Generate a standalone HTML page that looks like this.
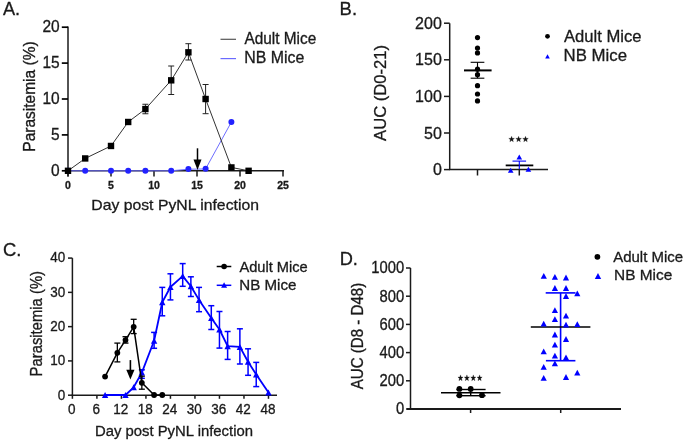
<!DOCTYPE html>
<html><head><meta charset="utf-8"><style>
html,body{margin:0;padding:0;background:#fff;}
svg{display:block;font-family:"Liberation Sans", sans-serif;will-change:transform;}
</style></head><body>
<svg width="685" height="441" viewBox="0 0 685 441">
<rect width="685" height="441" fill="#fff"/>
<text x="0" y="0" font-size="18" font-weight="normal" fill="#1a1a1a" stroke="#1a1a1a" stroke-width="0.3" textLength="17.18" lengthAdjust="spacingAndGlyphs" transform="translate(2.95 15.20)">A.</text>
<line x1="68.00" y1="26.40" x2="68.00" y2="176.50" stroke="#1a1a1a" stroke-width="1.5" stroke-linecap="butt"/>
<line x1="61.80" y1="170.80" x2="68.00" y2="170.80" stroke="#000" stroke-width="1.7" stroke-linecap="butt"/>
<text x="0" y="0" font-size="15.5" text-anchor="end" font-weight="normal" fill="#1a1a1a" stroke="#1a1a1a" stroke-width="0.3" transform="translate(59.70 175.90) scale(1 1.07)">0</text>
<line x1="61.80" y1="134.90" x2="68.00" y2="134.90" stroke="#000" stroke-width="1.7" stroke-linecap="butt"/>
<text x="0" y="0" font-size="15.5" text-anchor="end" font-weight="normal" fill="#1a1a1a" stroke="#1a1a1a" stroke-width="0.3" transform="translate(59.70 140.00) scale(1 1.07)">5</text>
<line x1="61.80" y1="99.00" x2="68.00" y2="99.00" stroke="#000" stroke-width="1.7" stroke-linecap="butt"/>
<text x="0" y="0" font-size="15.5" text-anchor="end" font-weight="normal" fill="#1a1a1a" stroke="#1a1a1a" stroke-width="0.3" transform="translate(59.70 104.10) scale(1 1.07)">10</text>
<line x1="61.80" y1="63.10" x2="68.00" y2="63.10" stroke="#000" stroke-width="1.7" stroke-linecap="butt"/>
<text x="0" y="0" font-size="15.5" text-anchor="end" font-weight="normal" fill="#1a1a1a" stroke="#1a1a1a" stroke-width="0.3" transform="translate(59.70 68.20) scale(1 1.07)">15</text>
<line x1="61.80" y1="27.20" x2="68.00" y2="27.20" stroke="#000" stroke-width="1.7" stroke-linecap="butt"/>
<text x="0" y="0" font-size="15.5" text-anchor="end" font-weight="normal" fill="#1a1a1a" stroke="#1a1a1a" stroke-width="0.3" transform="translate(59.70 32.30) scale(1 1.07)">20</text>
<line x1="68.00" y1="170.80" x2="284.00" y2="170.80" stroke="#1a1a1a" stroke-width="1.5" stroke-linecap="butt"/>
<line x1="68.00" y1="170.80" x2="68.00" y2="176.50" stroke="#1a1a1a" stroke-width="1.5" stroke-linecap="butt"/>
<text x="68.00" y="188.80" font-size="10.5" text-anchor="middle" font-weight="bold" fill="#1a1a1a" stroke="#1a1a1a" stroke-width="0.3">0</text>
<line x1="111.00" y1="170.80" x2="111.00" y2="176.50" stroke="#1a1a1a" stroke-width="1.5" stroke-linecap="butt"/>
<text x="111.00" y="188.80" font-size="10.5" text-anchor="middle" font-weight="bold" fill="#1a1a1a" stroke="#1a1a1a" stroke-width="0.3">5</text>
<line x1="154.00" y1="170.80" x2="154.00" y2="176.50" stroke="#1a1a1a" stroke-width="1.5" stroke-linecap="butt"/>
<text x="154.00" y="188.80" font-size="10.5" text-anchor="middle" font-weight="bold" fill="#1a1a1a" stroke="#1a1a1a" stroke-width="0.3">10</text>
<line x1="197.00" y1="170.80" x2="197.00" y2="176.50" stroke="#1a1a1a" stroke-width="1.5" stroke-linecap="butt"/>
<text x="197.00" y="188.80" font-size="10.5" text-anchor="middle" font-weight="bold" fill="#1a1a1a" stroke="#1a1a1a" stroke-width="0.3">15</text>
<line x1="240.00" y1="170.80" x2="240.00" y2="176.50" stroke="#1a1a1a" stroke-width="1.5" stroke-linecap="butt"/>
<text x="240.00" y="188.80" font-size="10.5" text-anchor="middle" font-weight="bold" fill="#1a1a1a" stroke="#1a1a1a" stroke-width="0.3">20</text>
<line x1="283.00" y1="170.80" x2="283.00" y2="176.50" stroke="#1a1a1a" stroke-width="1.5" stroke-linecap="butt"/>
<text x="283.00" y="188.80" font-size="10.5" text-anchor="middle" font-weight="bold" fill="#1a1a1a" stroke="#1a1a1a" stroke-width="0.3">25</text>
<text x="0" y="0" font-size="15.6" font-weight="normal" fill="#1a1a1a" stroke="#1a1a1a" stroke-width="0.3" textLength="167.66" lengthAdjust="spacingAndGlyphs" transform="translate(91.29 210.00) scale(1 0.92)">Day post PyNL infection</text>
<text x="0" y="0" font-size="15.3" font-weight="normal" fill="#1a1a1a" stroke="#1a1a1a" stroke-width="0.3" textLength="110.34" lengthAdjust="spacingAndGlyphs" transform="translate(35.10 151.71) rotate(-90) scale(1 1.12)">Parasitemia (%)</text>
<line x1="220.50" y1="39.30" x2="236.00" y2="39.30" stroke="#555" stroke-width="1.2" stroke-linecap="butt"/>
<line x1="220.50" y1="58.60" x2="236.00" y2="58.60" stroke="#6a6aff" stroke-width="1.2" stroke-linecap="butt"/>
<text x="0" y="0" font-size="15.3" font-weight="normal" fill="#1a1a1a" stroke="#1a1a1a" stroke-width="0.3" textLength="71.78" lengthAdjust="spacingAndGlyphs" transform="translate(244.50 43.90) scale(1 1.05)">Adult Mice</text>
<text x="0" y="0" font-size="15.3" font-weight="normal" fill="#1a1a1a" stroke="#1a1a1a" stroke-width="0.3" textLength="60.01" lengthAdjust="spacingAndGlyphs" transform="translate(244.26 62.90) scale(1 1.05)">NB Mice</text>
<polyline points="68.00,170.80 85.20,170.80 111.00,170.80 128.20,170.80 145.40,170.80 171.20,170.80 188.40,169.22 205.60,168.93 231.40,121.98" fill="none" stroke="#6e6eff" stroke-width="1" stroke-linejoin="round"/>
<polyline points="68.00,170.80 85.20,158.45 111.00,145.96 128.20,121.98 145.40,109.05 171.20,80.33 188.40,52.33 205.60,99.00 231.40,167.43 248.60,170.80" fill="none" stroke="#333" stroke-width="1" stroke-linejoin="round"/>
<line x1="145.40" y1="104.25" x2="145.40" y2="113.75" stroke="#222" stroke-width="1" stroke-linecap="butt"/>
<line x1="142.40" y1="104.25" x2="148.40" y2="104.25" stroke="#222" stroke-width="1" stroke-linecap="butt"/>
<line x1="142.40" y1="113.75" x2="148.40" y2="113.75" stroke="#222" stroke-width="1" stroke-linecap="butt"/>
<line x1="171.20" y1="66.00" x2="171.20" y2="94.50" stroke="#222" stroke-width="1" stroke-linecap="butt"/>
<line x1="168.20" y1="66.00" x2="174.20" y2="66.00" stroke="#222" stroke-width="1" stroke-linecap="butt"/>
<line x1="168.20" y1="94.50" x2="174.20" y2="94.50" stroke="#222" stroke-width="1" stroke-linecap="butt"/>
<line x1="188.40" y1="43.70" x2="188.40" y2="60.00" stroke="#222" stroke-width="1" stroke-linecap="butt"/>
<line x1="185.40" y1="43.70" x2="191.40" y2="43.70" stroke="#222" stroke-width="1" stroke-linecap="butt"/>
<line x1="185.40" y1="60.00" x2="191.40" y2="60.00" stroke="#222" stroke-width="1" stroke-linecap="butt"/>
<line x1="205.60" y1="84.50" x2="205.60" y2="113.70" stroke="#222" stroke-width="1" stroke-linecap="butt"/>
<line x1="202.60" y1="84.50" x2="208.60" y2="84.50" stroke="#222" stroke-width="1" stroke-linecap="butt"/>
<line x1="202.60" y1="113.70" x2="208.60" y2="113.70" stroke="#222" stroke-width="1" stroke-linecap="butt"/>
<circle cx="68.00" cy="170.70" r="3.0" fill="#2222ff"/>
<circle cx="85.20" cy="170.70" r="3.0" fill="#2222ff"/>
<circle cx="111.00" cy="170.70" r="3.0" fill="#2222ff"/>
<circle cx="128.20" cy="170.70" r="3.0" fill="#2222ff"/>
<circle cx="145.40" cy="170.70" r="3.0" fill="#2222ff"/>
<circle cx="171.20" cy="170.70" r="3.0" fill="#2222ff"/>
<circle cx="188.40" cy="169.12" r="3.0" fill="#2222ff"/>
<circle cx="205.60" cy="168.83" r="3.0" fill="#2222ff"/>
<circle cx="231.40" cy="121.88" r="3.0" fill="#2222ff"/>
<rect x="64.80" y="167.60" width="6.4" height="6.4" fill="#000"/>
<rect x="82.00" y="155.25" width="6.4" height="6.4" fill="#000"/>
<rect x="107.80" y="142.76" width="6.4" height="6.4" fill="#000"/>
<rect x="125.00" y="118.78" width="6.4" height="6.4" fill="#000"/>
<rect x="142.20" y="105.85" width="6.4" height="6.4" fill="#000"/>
<rect x="168.00" y="77.13" width="6.4" height="6.4" fill="#000"/>
<rect x="185.20" y="49.13" width="6.4" height="6.4" fill="#000"/>
<rect x="202.40" y="95.80" width="6.4" height="6.4" fill="#000"/>
<rect x="228.20" y="164.23" width="6.4" height="6.4" fill="#000"/>
<rect x="245.40" y="167.60" width="6.4" height="6.4" fill="#000"/>
<line x1="197.50" y1="148.30" x2="197.50" y2="160.50" stroke="#000" stroke-width="1.5" stroke-linecap="butt"/>
<polygon points="193.50,159.50 201.50,159.50 197.50,170.00" fill="#000"/>
<text x="0" y="0" font-size="18" font-weight="normal" fill="#1a1a1a" stroke="#1a1a1a" stroke-width="0.3" textLength="17.43" lengthAdjust="spacingAndGlyphs" transform="translate(339.62 15.20)">B.</text>
<line x1="449.70" y1="23.30" x2="449.70" y2="169.60" stroke="#1a1a1a" stroke-width="1.5" stroke-linecap="butt"/>
<line x1="444.00" y1="169.60" x2="449.70" y2="169.60" stroke="#1a1a1a" stroke-width="1.5" stroke-linecap="butt"/>
<text x="441.80" y="175.20" font-size="16" text-anchor="end" font-weight="normal" fill="#1a1a1a" stroke="#1a1a1a" stroke-width="0.3">0</text>
<line x1="444.00" y1="133.00" x2="449.70" y2="133.00" stroke="#1a1a1a" stroke-width="1.5" stroke-linecap="butt"/>
<text x="441.80" y="138.60" font-size="16" text-anchor="end" font-weight="normal" fill="#1a1a1a" stroke="#1a1a1a" stroke-width="0.3">50</text>
<line x1="444.00" y1="96.40" x2="449.70" y2="96.40" stroke="#1a1a1a" stroke-width="1.5" stroke-linecap="butt"/>
<text x="441.80" y="102.00" font-size="16" text-anchor="end" font-weight="normal" fill="#1a1a1a" stroke="#1a1a1a" stroke-width="0.3">100</text>
<line x1="444.00" y1="59.80" x2="449.70" y2="59.80" stroke="#1a1a1a" stroke-width="1.5" stroke-linecap="butt"/>
<text x="441.80" y="65.40" font-size="16" text-anchor="end" font-weight="normal" fill="#1a1a1a" stroke="#1a1a1a" stroke-width="0.3">150</text>
<line x1="444.00" y1="23.20" x2="449.70" y2="23.20" stroke="#1a1a1a" stroke-width="1.5" stroke-linecap="butt"/>
<text x="441.80" y="28.80" font-size="16" text-anchor="end" font-weight="normal" fill="#1a1a1a" stroke="#1a1a1a" stroke-width="0.3">200</text>
<line x1="448.95" y1="169.60" x2="548.00" y2="169.60" stroke="#1a1a1a" stroke-width="1.5" stroke-linecap="butt"/>
<line x1="477.50" y1="169.60" x2="477.50" y2="175.50" stroke="#1a1a1a" stroke-width="1.5" stroke-linecap="butt"/>
<line x1="519.30" y1="169.60" x2="519.30" y2="175.50" stroke="#1a1a1a" stroke-width="1.5" stroke-linecap="butt"/>
<text x="0" y="0" font-size="16.4" font-weight="normal" fill="#1a1a1a" stroke="#1a1a1a" stroke-width="0.3" textLength="95.98" lengthAdjust="spacingAndGlyphs" transform="translate(386.40 140.90) rotate(-90)">AUC (D0-21)</text>
<circle cx="547.50" cy="36.30" r="2.4" fill="#000"/>
<polygon points="547.50,54.30 549.80,58.50 545.20,58.50" fill="#0000ff"/>
<text x="0" y="0" font-size="16.6" font-weight="normal" fill="#1a1a1a" stroke="#1a1a1a" stroke-width="0.3" textLength="77.57" lengthAdjust="spacingAndGlyphs" transform="translate(563.90 41.90)">Adult Mice</text>
<text x="0" y="0" font-size="16.6" font-weight="normal" fill="#1a1a1a" stroke="#1a1a1a" stroke-width="0.3" textLength="63.48" lengthAdjust="spacingAndGlyphs" transform="translate(563.53 61.20)">NB Mice</text>
<line x1="464.00" y1="70.40" x2="491.60" y2="70.40" stroke="#000" stroke-width="2" stroke-linecap="butt"/>
<line x1="477.50" y1="62.30" x2="477.50" y2="78.20" stroke="#000" stroke-width="1.1" stroke-linecap="butt"/>
<line x1="470.65" y1="62.30" x2="484.35" y2="62.30" stroke="#000" stroke-width="1.1" stroke-linecap="butt"/>
<line x1="470.65" y1="78.20" x2="484.35" y2="78.20" stroke="#000" stroke-width="1.1" stroke-linecap="butt"/>
<circle cx="477.50" cy="37.60" r="2.6" fill="#000"/>
<circle cx="477.50" cy="48.00" r="2.6" fill="#000"/>
<circle cx="477.50" cy="52.90" r="2.6" fill="#000"/>
<circle cx="477.50" cy="69.20" r="2.6" fill="#000"/>
<circle cx="477.50" cy="74.70" r="2.6" fill="#000"/>
<circle cx="477.50" cy="85.70" r="2.6" fill="#000"/>
<circle cx="477.50" cy="94.00" r="2.6" fill="#000"/>
<circle cx="477.50" cy="100.90" r="2.6" fill="#000"/>
<line x1="505.70" y1="165.40" x2="533.30" y2="165.40" stroke="#000" stroke-width="1.8" stroke-linecap="butt"/>
<line x1="512.50" y1="161.10" x2="526.10" y2="161.10" stroke="#0000ff" stroke-width="1.1" stroke-linecap="butt"/>
<line x1="519.30" y1="161.10" x2="519.30" y2="169.00" stroke="#0000ff" stroke-width="1.1" stroke-linecap="butt"/>
<polygon points="510.70,167.70 513.50,172.70 507.90,172.70" fill="#0000ff"/>
<polygon points="519.30,154.50 522.10,159.50 516.50,159.50" fill="#0000ff"/>
<polygon points="528.40,166.80 531.20,171.80 525.60,171.80" fill="#0000ff"/>
<polygon points="511.60,136.35 512.31,138.33 514.41,138.39 512.74,139.67 513.33,141.69 511.60,140.50 509.87,141.69 510.46,139.67 508.79,138.39 510.89,138.33" fill="#111" stroke="#111" stroke-width="0.3" stroke-linejoin="round"/>
<polygon points="518.60,136.35 519.31,138.33 521.41,138.39 519.74,139.67 520.33,141.69 518.60,140.50 516.87,141.69 517.46,139.67 515.79,138.39 517.89,138.33" fill="#111" stroke="#111" stroke-width="0.3" stroke-linejoin="round"/>
<polygon points="525.50,136.35 526.21,138.33 528.31,138.39 526.64,139.67 527.23,141.69 525.50,140.50 523.77,141.69 524.36,139.67 522.69,138.39 524.79,138.33" fill="#111" stroke="#111" stroke-width="0.3" stroke-linejoin="round"/>
<text x="0" y="0" font-size="18" font-weight="normal" fill="#1a1a1a" stroke="#1a1a1a" stroke-width="0.3" textLength="18.40" lengthAdjust="spacingAndGlyphs" transform="translate(3.03 256.00)">C.</text>
<line x1="72.40" y1="258.10" x2="72.40" y2="395.20" stroke="#1a1a1a" stroke-width="1.5" stroke-linecap="butt"/>
<line x1="68.00" y1="395.20" x2="72.40" y2="395.20" stroke="#1a1a1a" stroke-width="1.5" stroke-linecap="butt"/>
<text x="0" y="0" font-size="13.5" text-anchor="end" font-weight="normal" fill="#1a1a1a" stroke="#1a1a1a" stroke-width="0.3" transform="translate(65.20 399.60) scale(1 1.1)">0</text>
<line x1="68.00" y1="360.92" x2="72.40" y2="360.92" stroke="#1a1a1a" stroke-width="1.5" stroke-linecap="butt"/>
<text x="0" y="0" font-size="13.5" text-anchor="end" font-weight="normal" fill="#1a1a1a" stroke="#1a1a1a" stroke-width="0.3" transform="translate(65.20 365.32) scale(1 1.1)">10</text>
<line x1="68.00" y1="326.64" x2="72.40" y2="326.64" stroke="#1a1a1a" stroke-width="1.5" stroke-linecap="butt"/>
<text x="0" y="0" font-size="13.5" text-anchor="end" font-weight="normal" fill="#1a1a1a" stroke="#1a1a1a" stroke-width="0.3" transform="translate(65.20 331.04) scale(1 1.1)">20</text>
<line x1="68.00" y1="292.36" x2="72.40" y2="292.36" stroke="#1a1a1a" stroke-width="1.5" stroke-linecap="butt"/>
<text x="0" y="0" font-size="13.5" text-anchor="end" font-weight="normal" fill="#1a1a1a" stroke="#1a1a1a" stroke-width="0.3" transform="translate(65.20 296.76) scale(1 1.1)">30</text>
<line x1="68.00" y1="258.08" x2="72.40" y2="258.08" stroke="#1a1a1a" stroke-width="1.5" stroke-linecap="butt"/>
<text x="0" y="0" font-size="13.5" text-anchor="end" font-weight="normal" fill="#1a1a1a" stroke="#1a1a1a" stroke-width="0.3" transform="translate(65.20 262.48) scale(1 1.1)">40</text>
<line x1="71.65" y1="395.20" x2="277.00" y2="395.20" stroke="#1a1a1a" stroke-width="1.5" stroke-linecap="butt"/>
<line x1="72.40" y1="395.20" x2="72.40" y2="398.80" stroke="#1a1a1a" stroke-width="1.5" stroke-linecap="butt"/>
<text x="0" y="0" font-size="13.5" text-anchor="middle" font-weight="normal" fill="#1a1a1a" stroke="#1a1a1a" stroke-width="0.3" transform="translate(71.80 413.60) scale(1 1.07)">0</text>
<line x1="96.91" y1="395.20" x2="96.91" y2="398.80" stroke="#1a1a1a" stroke-width="1.5" stroke-linecap="butt"/>
<text x="0" y="0" font-size="13.5" text-anchor="middle" font-weight="normal" fill="#1a1a1a" stroke="#1a1a1a" stroke-width="0.3" transform="translate(96.31 413.60) scale(1 1.07)">6</text>
<line x1="121.42" y1="395.20" x2="121.42" y2="398.80" stroke="#1a1a1a" stroke-width="1.5" stroke-linecap="butt"/>
<text x="0" y="0" font-size="13.5" text-anchor="middle" font-weight="normal" fill="#1a1a1a" stroke="#1a1a1a" stroke-width="0.3" transform="translate(120.82 413.60) scale(1 1.07)">12</text>
<line x1="145.93" y1="395.20" x2="145.93" y2="398.80" stroke="#1a1a1a" stroke-width="1.5" stroke-linecap="butt"/>
<text x="0" y="0" font-size="13.5" text-anchor="middle" font-weight="normal" fill="#1a1a1a" stroke="#1a1a1a" stroke-width="0.3" transform="translate(145.33 413.60) scale(1 1.07)">18</text>
<line x1="170.44" y1="395.20" x2="170.44" y2="398.80" stroke="#1a1a1a" stroke-width="1.5" stroke-linecap="butt"/>
<text x="0" y="0" font-size="13.5" text-anchor="middle" font-weight="normal" fill="#1a1a1a" stroke="#1a1a1a" stroke-width="0.3" transform="translate(169.84 413.60) scale(1 1.07)">24</text>
<line x1="194.95" y1="395.20" x2="194.95" y2="398.80" stroke="#1a1a1a" stroke-width="1.5" stroke-linecap="butt"/>
<text x="0" y="0" font-size="13.5" text-anchor="middle" font-weight="normal" fill="#1a1a1a" stroke="#1a1a1a" stroke-width="0.3" transform="translate(194.35 413.60) scale(1 1.07)">30</text>
<line x1="219.46" y1="395.20" x2="219.46" y2="398.80" stroke="#1a1a1a" stroke-width="1.5" stroke-linecap="butt"/>
<text x="0" y="0" font-size="13.5" text-anchor="middle" font-weight="normal" fill="#1a1a1a" stroke="#1a1a1a" stroke-width="0.3" transform="translate(218.86 413.60) scale(1 1.07)">36</text>
<line x1="243.97" y1="395.20" x2="243.97" y2="398.80" stroke="#1a1a1a" stroke-width="1.5" stroke-linecap="butt"/>
<text x="0" y="0" font-size="13.5" text-anchor="middle" font-weight="normal" fill="#1a1a1a" stroke="#1a1a1a" stroke-width="0.3" transform="translate(243.37 413.60) scale(1 1.07)">42</text>
<line x1="268.48" y1="395.20" x2="268.48" y2="398.80" stroke="#1a1a1a" stroke-width="1.5" stroke-linecap="butt"/>
<text x="0" y="0" font-size="13.5" text-anchor="middle" font-weight="normal" fill="#1a1a1a" stroke="#1a1a1a" stroke-width="0.3" transform="translate(267.88 413.60) scale(1 1.07)">48</text>
<text x="0" y="0" font-size="14.7" font-weight="normal" fill="#1a1a1a" stroke="#1a1a1a" stroke-width="0.3" textLength="158.12" lengthAdjust="spacingAndGlyphs" transform="translate(94.89 435.50)">Day post PyNL infection</text>
<text x="0" y="0" font-size="14.6" font-weight="normal" fill="#1a1a1a" stroke="#1a1a1a" stroke-width="0.3" textLength="105.44" lengthAdjust="spacingAndGlyphs" transform="translate(42.20 376.42) rotate(-90) scale(1 1.1)">Parasitemia (%)</text>
<line x1="216.70" y1="266.50" x2="231.30" y2="266.50" stroke="#000" stroke-width="1.5" stroke-linecap="butt"/>
<circle cx="224.10" cy="266.50" r="2.8" fill="#000"/>
<line x1="216.70" y1="285.30" x2="231.30" y2="285.30" stroke="#0000ff" stroke-width="1.5" stroke-linecap="butt"/>
<polygon points="224.10,282.25 227.10,287.75 221.10,287.75" fill="#0000ff"/>
<text x="0" y="0" font-size="14.5" font-weight="normal" fill="#1a1a1a" stroke="#1a1a1a" stroke-width="0.3" textLength="68.36" lengthAdjust="spacingAndGlyphs" transform="translate(239.40 271.70) scale(1 1.04)">Adult Mice</text>
<text x="0" y="0" font-size="14.5" font-weight="normal" fill="#1a1a1a" stroke="#1a1a1a" stroke-width="0.3" textLength="57.11" lengthAdjust="spacingAndGlyphs" transform="translate(239.26 289.80) scale(1 1.04)">NB Mice</text>
<polyline points="105.08,395.00 125.50,395.00 133.68,387.30 141.84,372.60 154.10,340.80 162.27,302.20 170.44,287.00 182.69,276.10 190.87,286.30 199.04,299.90 211.29,318.00 219.46,329.50 227.63,346.20 239.88,346.90 248.06,361.70 256.23,374.40 268.48,392.50" fill="none" stroke="#0000ff" stroke-width="1.8" stroke-linejoin="round"/>
<line x1="141.84" y1="369.80" x2="141.84" y2="378.30" stroke="#0000ff" stroke-width="1.5" stroke-linecap="butt"/>
<line x1="138.84" y1="369.80" x2="144.84" y2="369.80" stroke="#0000ff" stroke-width="1.5" stroke-linecap="butt"/>
<line x1="138.84" y1="378.30" x2="144.84" y2="378.30" stroke="#0000ff" stroke-width="1.5" stroke-linecap="butt"/>
<line x1="154.10" y1="332.40" x2="154.10" y2="348.30" stroke="#0000ff" stroke-width="1.5" stroke-linecap="butt"/>
<line x1="151.10" y1="332.40" x2="157.10" y2="332.40" stroke="#0000ff" stroke-width="1.5" stroke-linecap="butt"/>
<line x1="151.10" y1="348.30" x2="157.10" y2="348.30" stroke="#0000ff" stroke-width="1.5" stroke-linecap="butt"/>
<line x1="162.27" y1="287.40" x2="162.27" y2="315.80" stroke="#0000ff" stroke-width="1.5" stroke-linecap="butt"/>
<line x1="159.27" y1="287.40" x2="165.27" y2="287.40" stroke="#0000ff" stroke-width="1.5" stroke-linecap="butt"/>
<line x1="159.27" y1="315.80" x2="165.27" y2="315.80" stroke="#0000ff" stroke-width="1.5" stroke-linecap="butt"/>
<line x1="170.44" y1="273.80" x2="170.44" y2="299.90" stroke="#0000ff" stroke-width="1.5" stroke-linecap="butt"/>
<line x1="167.44" y1="273.80" x2="173.44" y2="273.80" stroke="#0000ff" stroke-width="1.5" stroke-linecap="butt"/>
<line x1="167.44" y1="299.90" x2="173.44" y2="299.90" stroke="#0000ff" stroke-width="1.5" stroke-linecap="butt"/>
<line x1="182.69" y1="263.60" x2="182.69" y2="286.30" stroke="#0000ff" stroke-width="1.5" stroke-linecap="butt"/>
<line x1="179.69" y1="263.60" x2="185.69" y2="263.60" stroke="#0000ff" stroke-width="1.5" stroke-linecap="butt"/>
<line x1="179.69" y1="286.30" x2="185.69" y2="286.30" stroke="#0000ff" stroke-width="1.5" stroke-linecap="butt"/>
<line x1="190.87" y1="276.80" x2="190.87" y2="296.50" stroke="#0000ff" stroke-width="1.5" stroke-linecap="butt"/>
<line x1="187.87" y1="276.80" x2="193.87" y2="276.80" stroke="#0000ff" stroke-width="1.5" stroke-linecap="butt"/>
<line x1="187.87" y1="296.50" x2="193.87" y2="296.50" stroke="#0000ff" stroke-width="1.5" stroke-linecap="butt"/>
<line x1="199.04" y1="287.40" x2="199.04" y2="311.70" stroke="#0000ff" stroke-width="1.5" stroke-linecap="butt"/>
<line x1="196.04" y1="287.40" x2="202.04" y2="287.40" stroke="#0000ff" stroke-width="1.5" stroke-linecap="butt"/>
<line x1="196.04" y1="311.70" x2="202.04" y2="311.70" stroke="#0000ff" stroke-width="1.5" stroke-linecap="butt"/>
<line x1="211.29" y1="305.70" x2="211.29" y2="329.50" stroke="#0000ff" stroke-width="1.5" stroke-linecap="butt"/>
<line x1="208.29" y1="305.70" x2="214.29" y2="305.70" stroke="#0000ff" stroke-width="1.5" stroke-linecap="butt"/>
<line x1="208.29" y1="329.50" x2="214.29" y2="329.50" stroke="#0000ff" stroke-width="1.5" stroke-linecap="butt"/>
<line x1="219.46" y1="311.50" x2="219.46" y2="348.10" stroke="#0000ff" stroke-width="1.5" stroke-linecap="butt"/>
<line x1="216.46" y1="311.50" x2="222.46" y2="311.50" stroke="#0000ff" stroke-width="1.5" stroke-linecap="butt"/>
<line x1="216.46" y1="348.10" x2="222.46" y2="348.10" stroke="#0000ff" stroke-width="1.5" stroke-linecap="butt"/>
<line x1="227.63" y1="331.50" x2="227.63" y2="359.40" stroke="#0000ff" stroke-width="1.5" stroke-linecap="butt"/>
<line x1="224.63" y1="331.50" x2="230.63" y2="331.50" stroke="#0000ff" stroke-width="1.5" stroke-linecap="butt"/>
<line x1="224.63" y1="359.40" x2="230.63" y2="359.40" stroke="#0000ff" stroke-width="1.5" stroke-linecap="butt"/>
<line x1="239.88" y1="328.80" x2="239.88" y2="364.00" stroke="#0000ff" stroke-width="1.5" stroke-linecap="butt"/>
<line x1="236.88" y1="328.80" x2="242.88" y2="328.80" stroke="#0000ff" stroke-width="1.5" stroke-linecap="butt"/>
<line x1="236.88" y1="364.00" x2="242.88" y2="364.00" stroke="#0000ff" stroke-width="1.5" stroke-linecap="butt"/>
<line x1="248.06" y1="348.80" x2="248.06" y2="375.30" stroke="#0000ff" stroke-width="1.5" stroke-linecap="butt"/>
<line x1="245.06" y1="348.80" x2="251.06" y2="348.80" stroke="#0000ff" stroke-width="1.5" stroke-linecap="butt"/>
<line x1="245.06" y1="375.30" x2="251.06" y2="375.30" stroke="#0000ff" stroke-width="1.5" stroke-linecap="butt"/>
<line x1="256.23" y1="362.40" x2="256.23" y2="386.60" stroke="#0000ff" stroke-width="1.5" stroke-linecap="butt"/>
<line x1="253.23" y1="362.40" x2="259.23" y2="362.40" stroke="#0000ff" stroke-width="1.5" stroke-linecap="butt"/>
<line x1="253.23" y1="386.60" x2="259.23" y2="386.60" stroke="#0000ff" stroke-width="1.5" stroke-linecap="butt"/>
<polygon points="105.08,392.00 108.28,398.00 101.88,398.00" fill="#0000ff"/>
<polygon points="125.50,392.00 128.70,398.00 122.30,398.00" fill="#0000ff"/>
<polygon points="133.68,384.30 136.88,390.30 130.48,390.30" fill="#0000ff"/>
<polygon points="141.84,369.60 145.04,375.60 138.65,375.60" fill="#0000ff"/>
<polygon points="154.10,337.80 157.30,343.80 150.90,343.80" fill="#0000ff"/>
<polygon points="162.27,299.20 165.47,305.20 159.07,305.20" fill="#0000ff"/>
<polygon points="170.44,284.00 173.64,290.00 167.24,290.00" fill="#0000ff"/>
<polygon points="182.69,273.10 185.89,279.10 179.50,279.10" fill="#0000ff"/>
<polygon points="190.87,283.30 194.06,289.30 187.67,289.30" fill="#0000ff"/>
<polygon points="199.04,296.90 202.24,302.90 195.84,302.90" fill="#0000ff"/>
<polygon points="211.29,315.00 214.49,321.00 208.09,321.00" fill="#0000ff"/>
<polygon points="219.46,326.50 222.66,332.50 216.26,332.50" fill="#0000ff"/>
<polygon points="227.63,343.20 230.83,349.20 224.43,349.20" fill="#0000ff"/>
<polygon points="239.88,343.90 243.08,349.90 236.69,349.90" fill="#0000ff"/>
<polygon points="248.06,358.70 251.25,364.70 244.86,364.70" fill="#0000ff"/>
<polygon points="256.23,371.40 259.43,377.40 253.03,377.40" fill="#0000ff"/>
<polygon points="268.48,389.50 271.68,395.50 265.28,395.50" fill="#0000ff"/>
<polyline points="105.08,376.60 117.34,352.80 125.50,340.10 133.68,326.80 141.84,382.80 154.10,395.00 162.27,395.00" fill="none" stroke="#000" stroke-width="1.5" stroke-linejoin="round"/>
<line x1="117.34" y1="343.10" x2="117.34" y2="361.90" stroke="#000" stroke-width="1.3" stroke-linecap="butt"/>
<line x1="114.34" y1="343.10" x2="120.34" y2="343.10" stroke="#000" stroke-width="1.3" stroke-linecap="butt"/>
<line x1="114.34" y1="361.90" x2="120.34" y2="361.90" stroke="#000" stroke-width="1.3" stroke-linecap="butt"/>
<line x1="125.50" y1="336.70" x2="125.50" y2="343.10" stroke="#000" stroke-width="1.3" stroke-linecap="butt"/>
<line x1="122.50" y1="336.70" x2="128.50" y2="336.70" stroke="#000" stroke-width="1.3" stroke-linecap="butt"/>
<line x1="122.50" y1="343.10" x2="128.50" y2="343.10" stroke="#000" stroke-width="1.3" stroke-linecap="butt"/>
<line x1="133.68" y1="319.30" x2="133.68" y2="333.60" stroke="#000" stroke-width="1.3" stroke-linecap="butt"/>
<line x1="130.68" y1="319.30" x2="136.68" y2="319.30" stroke="#000" stroke-width="1.3" stroke-linecap="butt"/>
<line x1="130.68" y1="333.60" x2="136.68" y2="333.60" stroke="#000" stroke-width="1.3" stroke-linecap="butt"/>
<line x1="141.84" y1="376.20" x2="141.84" y2="389.20" stroke="#000" stroke-width="1.3" stroke-linecap="butt"/>
<line x1="138.84" y1="376.20" x2="144.84" y2="376.20" stroke="#000" stroke-width="1.3" stroke-linecap="butt"/>
<line x1="138.84" y1="389.20" x2="144.84" y2="389.20" stroke="#000" stroke-width="1.3" stroke-linecap="butt"/>
<circle cx="105.08" cy="376.60" r="2.9" fill="#000"/>
<circle cx="117.34" cy="352.80" r="2.9" fill="#000"/>
<circle cx="125.50" cy="340.10" r="2.9" fill="#000"/>
<circle cx="133.68" cy="326.80" r="2.9" fill="#000"/>
<circle cx="141.84" cy="382.80" r="2.9" fill="#000"/>
<circle cx="154.10" cy="395.00" r="2.9" fill="#000"/>
<circle cx="162.27" cy="395.00" r="2.9" fill="#000"/>
<line x1="130.40" y1="360.10" x2="130.40" y2="370.80" stroke="#000" stroke-width="1.6" stroke-linecap="butt"/>
<polygon points="126.30,369.80 134.50,369.80 130.40,379.60" fill="#000"/>
<text x="0" y="0" font-size="18" font-weight="normal" fill="#1a1a1a" stroke="#1a1a1a" stroke-width="0.3" textLength="18.18" lengthAdjust="spacingAndGlyphs" transform="translate(339.64 265.00)">D.</text>
<line x1="410.50" y1="268.00" x2="410.50" y2="409.00" stroke="#1a1a1a" stroke-width="1.5" stroke-linecap="butt"/>
<line x1="406.00" y1="409.00" x2="410.50" y2="409.00" stroke="#1a1a1a" stroke-width="1.5" stroke-linecap="butt"/>
<text x="0" y="0" font-size="14.8" text-anchor="end" font-weight="normal" fill="#1a1a1a" stroke="#1a1a1a" stroke-width="0.3" transform="translate(404.20 414.30) scale(1 1.1)">0</text>
<line x1="406.00" y1="380.80" x2="410.50" y2="380.80" stroke="#1a1a1a" stroke-width="1.5" stroke-linecap="butt"/>
<text x="0" y="0" font-size="14.8" text-anchor="end" font-weight="normal" fill="#1a1a1a" stroke="#1a1a1a" stroke-width="0.3" transform="translate(404.20 386.10) scale(1 1.1)">200</text>
<line x1="406.00" y1="352.60" x2="410.50" y2="352.60" stroke="#1a1a1a" stroke-width="1.5" stroke-linecap="butt"/>
<text x="0" y="0" font-size="14.8" text-anchor="end" font-weight="normal" fill="#1a1a1a" stroke="#1a1a1a" stroke-width="0.3" transform="translate(404.20 357.90) scale(1 1.1)">400</text>
<line x1="406.00" y1="324.40" x2="410.50" y2="324.40" stroke="#1a1a1a" stroke-width="1.5" stroke-linecap="butt"/>
<text x="0" y="0" font-size="14.8" text-anchor="end" font-weight="normal" fill="#1a1a1a" stroke="#1a1a1a" stroke-width="0.3" transform="translate(404.20 329.70) scale(1 1.1)">600</text>
<line x1="406.00" y1="296.20" x2="410.50" y2="296.20" stroke="#1a1a1a" stroke-width="1.5" stroke-linecap="butt"/>
<text x="0" y="0" font-size="14.8" text-anchor="end" font-weight="normal" fill="#1a1a1a" stroke="#1a1a1a" stroke-width="0.3" transform="translate(404.20 301.50) scale(1 1.1)">800</text>
<line x1="406.00" y1="268.00" x2="410.50" y2="268.00" stroke="#1a1a1a" stroke-width="1.5" stroke-linecap="butt"/>
<text x="0" y="0" font-size="14.8" text-anchor="end" font-weight="normal" fill="#1a1a1a" stroke="#1a1a1a" stroke-width="0.3" transform="translate(404.20 273.30) scale(1 1.1)">1000</text>
<line x1="407.00" y1="409.00" x2="621.00" y2="409.00" stroke="#1a1a1a" stroke-width="1.8" stroke-linecap="butt"/>
<line x1="470.60" y1="409.00" x2="470.60" y2="413.00" stroke="#1a1a1a" stroke-width="1.5" stroke-linecap="butt"/>
<line x1="560.70" y1="409.00" x2="560.70" y2="413.00" stroke="#1a1a1a" stroke-width="1.5" stroke-linecap="butt"/>
<text x="0" y="0" font-size="15" font-weight="normal" fill="#1a1a1a" stroke="#1a1a1a" stroke-width="0.3" textLength="106.46" lengthAdjust="spacingAndGlyphs" transform="translate(363.20 389.20) rotate(-90) scale(1 1.12)">AUC (D8 - D48)</text>
<circle cx="597.40" cy="256.80" r="2.9" fill="#000"/>
<polygon points="598.00,273.00 601.20,279.00 594.80,279.00" fill="#0000ff"/>
<text x="0" y="0" font-size="14.8" font-weight="normal" fill="#1a1a1a" stroke="#1a1a1a" stroke-width="0.3" textLength="69.90" lengthAdjust="spacingAndGlyphs" transform="translate(613.20 261.60) scale(1 1.05)">Adult Mice</text>
<text x="0" y="0" font-size="14.8" font-weight="normal" fill="#1a1a1a" stroke="#1a1a1a" stroke-width="0.3" textLength="58.18" lengthAdjust="spacingAndGlyphs" transform="translate(614.06 280.20) scale(1 1.05)">NB Mice</text>
<line x1="441.00" y1="392.70" x2="500.50" y2="392.70" stroke="#000" stroke-width="1.5" stroke-linecap="butt"/>
<line x1="456.40" y1="389.50" x2="485.60" y2="389.50" stroke="#000" stroke-width="1.4" stroke-linecap="butt"/>
<line x1="456.40" y1="395.70" x2="485.60" y2="395.70" stroke="#000" stroke-width="1.4" stroke-linecap="butt"/>
<line x1="470.70" y1="389.50" x2="470.70" y2="395.70" stroke="#000" stroke-width="1.4" stroke-linecap="butt"/>
<circle cx="459.40" cy="388.90" r="2.9" fill="#000"/>
<circle cx="459.40" cy="395.30" r="2.9" fill="#000"/>
<circle cx="470.70" cy="388.90" r="2.9" fill="#000"/>
<circle cx="482.00" cy="395.20" r="2.9" fill="#000"/>
<polygon points="460.50,374.90 461.14,377.05 463.06,377.11 461.54,378.50 462.08,380.69 460.50,379.40 458.92,380.69 459.46,378.50 457.94,377.11 459.86,377.05" fill="#111" stroke="#111" stroke-width="0.3" stroke-linejoin="round"/>
<polygon points="466.90,374.90 467.54,377.05 469.46,377.11 467.94,378.50 468.48,380.69 466.90,379.40 465.32,380.69 465.86,378.50 464.34,377.11 466.26,377.05" fill="#111" stroke="#111" stroke-width="0.3" stroke-linejoin="round"/>
<polygon points="473.30,374.90 473.94,377.05 475.86,377.11 474.34,378.50 474.88,380.69 473.30,379.40 471.72,380.69 472.26,378.50 470.74,377.11 472.66,377.05" fill="#111" stroke="#111" stroke-width="0.3" stroke-linejoin="round"/>
<polygon points="479.60,374.90 480.24,377.05 482.16,377.11 480.64,378.50 481.18,380.69 479.60,379.40 478.02,380.69 478.56,378.50 477.04,377.11 478.96,377.05" fill="#111" stroke="#111" stroke-width="0.3" stroke-linejoin="round"/>
<line x1="545.70" y1="292.90" x2="575.50" y2="292.90" stroke="#0000ff" stroke-width="1.6" stroke-linecap="butt"/>
<line x1="545.90" y1="360.70" x2="575.40" y2="360.70" stroke="#0000ff" stroke-width="1.6" stroke-linecap="butt"/>
<line x1="560.60" y1="292.90" x2="560.60" y2="360.70" stroke="#0000ff" stroke-width="1.6" stroke-linecap="butt"/>
<line x1="530.80" y1="327.00" x2="590.40" y2="327.00" stroke="#000" stroke-width="1.5" stroke-linecap="butt"/>
<polygon points="543.80,272.90 546.90,278.70 540.70,278.70" fill="#0000ff"/>
<polygon points="554.90,274.00 558.00,279.80 551.80,279.80" fill="#0000ff"/>
<polygon points="566.00,274.60 569.10,280.40 562.90,280.40" fill="#0000ff"/>
<polygon points="554.90,285.10 558.00,290.90 551.80,290.90" fill="#0000ff"/>
<polygon points="566.00,285.10 569.10,290.90 562.90,290.90" fill="#0000ff"/>
<polygon points="577.30,290.50 580.40,296.30 574.20,296.30" fill="#0000ff"/>
<polygon points="566.00,293.10 569.10,298.90 562.90,298.90" fill="#0000ff"/>
<polygon points="554.90,307.30 558.00,313.10 551.80,313.10" fill="#0000ff"/>
<polygon points="566.00,312.80 569.10,318.60 562.90,318.60" fill="#0000ff"/>
<polygon points="554.90,316.30 558.00,322.10 551.80,322.10" fill="#0000ff"/>
<polygon points="543.70,320.70 546.80,326.50 540.60,326.50" fill="#0000ff"/>
<polygon points="566.00,321.80 569.10,327.60 562.90,327.60" fill="#0000ff"/>
<polygon points="577.30,321.20 580.40,327.00 574.20,327.00" fill="#0000ff"/>
<polygon points="554.90,331.60 558.00,337.40 551.80,337.40" fill="#0000ff"/>
<polygon points="566.00,336.10 569.10,341.90 562.90,341.90" fill="#0000ff"/>
<polygon points="554.90,341.80 558.00,347.60 551.80,347.60" fill="#0000ff"/>
<polygon points="543.70,348.40 546.80,354.20 540.60,354.20" fill="#0000ff"/>
<polygon points="554.90,352.70 558.00,358.50 551.80,358.50" fill="#0000ff"/>
<polygon points="566.00,354.40 569.10,360.20 562.90,360.20" fill="#0000ff"/>
<polygon points="554.90,360.40 558.00,366.20 551.80,366.20" fill="#0000ff"/>
<polygon points="543.70,364.00 546.80,369.80 540.60,369.80" fill="#0000ff"/>
<polygon points="577.30,369.80 580.40,375.60 574.20,375.60" fill="#0000ff"/>
<polygon points="543.70,375.00 546.80,380.80 540.60,380.80" fill="#0000ff"/>
<polygon points="566.00,374.10 569.10,379.90 562.90,379.90" fill="#0000ff"/>
</svg>
</body></html>
